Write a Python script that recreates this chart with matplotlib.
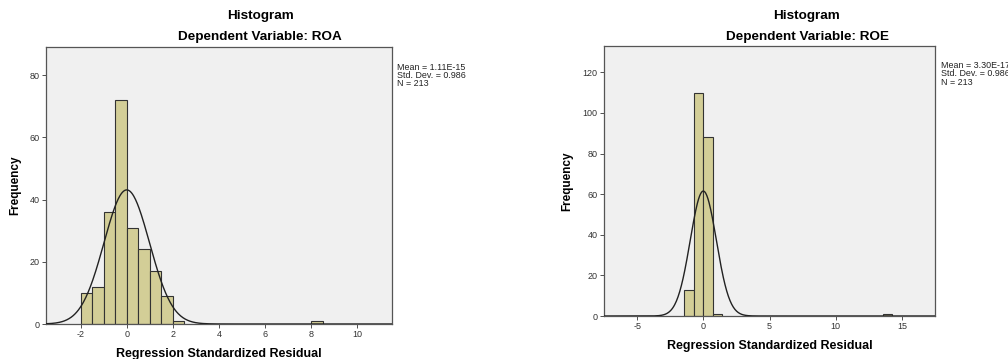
import numpy as np
import matplotlib
matplotlib.use("Agg")
import matplotlib.pyplot as plt

plt.rcParams['font.family'] = ['Liberation Sans', 'DejaVu Sans']
plt.rcParams['axes.unicode_minus'] = False

# ---- data ----
roa_bin_left = [-2.0, -1.5, -1.0, -0.5, 0.0, 0.5, 1.0, 1.5, 2.0, 8.0]
roa_counts = [10, 12, 36, 72, 31, 24, 17, 9, 1, 1]
roa_width = 0.5
roa_mean, roa_sd, roa_n = 1.11e-15, 0.986, 213
roa_stats = "Mean = 1.11E-15\nStd. Dev. = 0.986\nN = 213"

roe_bin_left = [-1.428, -0.714, 0.0, 0.714, 13.566]
roe_counts = [13, 110, 88, 1, 1]
roe_width = 0.714
roe_mean, roe_sd, roe_n = 3.30e-17, 0.986, 213
roe_stats = "Mean = 3.30E-17\nStd. Dev. = 0.986\nN = 213"

roa_xticks = [-2, 0, 2, 4, 6, 8, 10]
roa_yticks = [0, 20, 40, 60, 80]
roe_xticks = [-5, 0, 5, 10, 15]
roe_yticks = [0, 20, 40, 60, 80, 100, 120]

W, H = 1008, 359
fig = plt.figure(figsize=(W / 100, H / 100), dpi=100)
fig.patch.set_facecolor('white')

BAR = '#D3CE97'
BG = '#F0F0F0'

def panel(rect_px, bins, counts, width, mean, sd, n, xlim, ylim, xticks, yticks,
          dep, stats, title_cx, ylab_x, stats_x, stats_y):
    l, t, r, b = rect_px
    ax = fig.add_axes([l / W, 1 - b / H, (r - l) / W, (b - t) / H])
    ax.set_facecolor(BG)
    ax.bar(bins, counts, width=width, align='edge', color=BAR,
           edgecolor='#333333', linewidth=0.8, zorder=2)
    xs = np.linspace(xlim[0], xlim[1], 600)
    ys = n * width / (sd * np.sqrt(2 * np.pi)) * np.exp(-0.5 * ((xs - mean) / sd) ** 2)
    ax.plot(xs, ys, color='#222222', linewidth=1.0, zorder=3)
    ax.set_xlim(*xlim)
    ax.set_ylim(*ylim)
    ax.set_xticks(xticks)
    ax.set_yticks(yticks)
    ax.tick_params(axis='both', labelsize=6.5, length=3, width=0.6,
                   colors='#333333', pad=1.5)
    for s in ax.spines.values():
        s.set_color('#555555')
        s.set_linewidth(0.9)
    ax.set_xlabel('Regression Standardized Residual', fontsize=9,
                  fontweight='bold', labelpad=6)
    fig.text(ylab_x / W, 1 - ((t + b) / 2) / H, 'Frequency', rotation=90,
             fontsize=8.5, fontweight='bold', ha='center', va='center')
    fig.text(title_cx / W, 1 - 15.5 / H, 'Histogram', fontsize=9.7,
             fontweight='bold', ha='center', va='center')
    fig.text(title_cx / W, 1 - 37 / H, 'Dependent Variable: ' + dep, fontsize=9.7,
             fontweight='bold', ha='center', va='center')
    fig.text(stats_x / W, 1 - stats_y / H, stats, fontsize=6.4, ha='left',
             va='top', linespacing=0.92, color='#222222')
    return ax

panel((46, 47, 392, 324), roa_bin_left, roa_counts, roa_width, roa_mean, roa_sd,
      roa_n, (-3.5, 11.5), (0, 89), roa_xticks, roa_yticks, 'ROA', roa_stats,
      260, 15, 397, 62.5)

panel((604, 46, 935, 316), roe_bin_left, roe_counts, roe_width, roe_mean, roe_sd,
      roe_n, (-7.5, 17.5), (0, 133), roe_xticks, roe_yticks, 'ROE', roe_stats,
      807, 567, 941, 61)

fig.savefig('out.png', dpi=100, facecolor='white')
